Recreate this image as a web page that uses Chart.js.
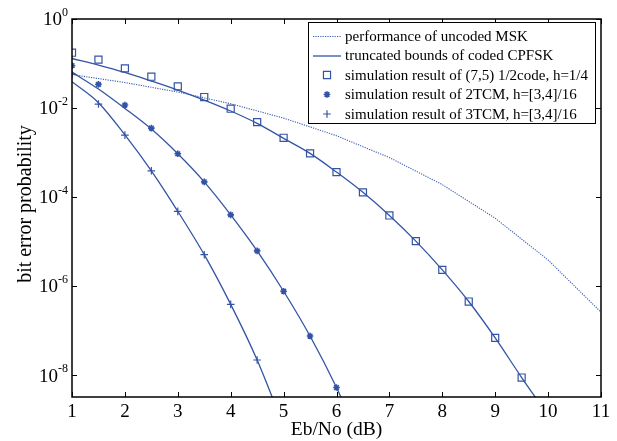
<!DOCTYPE html>
<html><head><meta charset="utf-8">
<script src="https://cdn.jsdelivr.net/npm/chart.js@4.4.0/dist/chart.umd.min.js"></script>
<style>html,body{margin:0;padding:0;background:#fff;overflow:hidden}</style>
</head><body>
<canvas id="c" width="617" height="441"></canvas>
<script>
// ---- data ----
const xTicks = [1, 2, 3, 4, 5, 6, 7, 8, 9, 10, 11];
const yTickExponents = [0, -2, -4, -6, -8];
const xTitle = 'Eb/No (dB)';
const yTitle = 'bit error probability';

const mskEbNo = [1, 2, 3, 4, 5, 6, 7, 8, 9, 10, 11];
const mskBer  = [5.63e-2, 3.75e-2, 2.29e-2, 1.25e-2, 5.95e-3, 2.39e-3, 7.73e-4, 1.91e-4, 3.36e-5, 3.87e-6, 2.61e-7];

const boundAEbNo = [1, 1.5, 2, 2.5, 3, 3.5, 4, 4.5, 5, 5.5, 6, 6.5, 7, 7.5, 8, 8.5, 9, 9.5, 10];
const boundABer  = [0.13, 0.0925, 0.063, 0.0405, 0.0254, 0.0151, 0.0086, 0.00453, 0.00209, 9.6e-4, 3.65e-4, 1.28e-4, 3.88e-5, 1.03e-5, 2.33e-6, 4.53e-7, 6.9e-8, 8.9e-9, 1.26e-9];
const simAEbNo = [1, 1.5, 2, 2.5, 3, 3.5, 4, 4.5, 5, 5.5, 6, 6.5, 7, 7.5, 8, 8.5, 9, 9.5];
const simABer  = [0.175, 0.122, 0.078, 0.0506, 0.0307, 0.0177, 0.00966, 0.00484, 0.00215, 9.6e-4, 3.65e-4, 1.28e-4, 3.88e-5, 1.03e-5, 2.33e-6, 4.53e-7, 6.9e-8, 8.9e-9];

const boundBEbNo = [1, 1.5, 2, 2.5, 3, 3.5, 4, 4.5, 5, 5.5, 6, 6.5];
const boundBBer  = [0.064, 0.0267, 0.0098, 0.00337, 9.4e-4, 2.2e-4, 4.0e-5, 6.2e-6, 7.7e-7, 7.6e-8, 5.3e-9, 2.5e-10];
const simBEbNo = [1, 1.5, 2, 2.5, 3, 3.5, 4, 4.5, 5, 5.5, 6];
const simBBer  = [0.0893, 0.034, 0.0117, 0.00355, 9.4e-4, 2.2e-4, 4.0e-5, 6.2e-6, 7.7e-7, 7.6e-8, 5.3e-9];

const boundCEbNo = [1, 1.5, 2, 2.5, 3, 3.5, 4, 4.5, 5];
const boundCBer  = [0.039, 0.0132, 0.0025, 3.9e-4, 4.8e-5, 5.1e-6, 3.9e-7, 2.2e-8, 7.2e-10];
const simCEbNo = [1, 1.5, 2, 2.5, 3, 3.5, 4, 4.5];
const simCBer  = [0.0572, 0.0123, 0.00247, 3.9e-4, 4.8e-5, 5.1e-6, 3.9e-7, 2.2e-8];

const legendLabels = [
  'performance of uncoded MSK',
  'truncated bounds of coded CPFSK',
  'simulation result of (7,5) 1/2code, h=1/4',
  'simulation result of 2TCM, h=[3,4]/16',
  'simulation result of 3TCM, h=[3,4]/16'
];

// ---- styling ----
const BLUE = '#3354a6';
const DOT_BLUE = '#3a5bb0';
const FONT = '"Liberation Serif", "Times New Roman", serif';

const pts = (xs, ys) => xs.map((x, i) => ({x: x, y: ys[i]}));

const lineDs = (label, xs, ys) => ({
  label, data: pts(xs, ys), borderColor: BLUE, borderWidth: 1.3,
  pointRadius: 0, fill: false, cubicInterpolationMode: 'monotone'
});
const markDs = (label, xs, ys, style, r, bw) => ({
  label, data: pts(xs, ys), showLine: false, borderColor: BLUE,
  backgroundColor: 'rgba(0,0,0,0)', pointStyle: style, pointRadius: r, pointBorderWidth: bw
});

const datasets = [
  {label: legendLabels[0], data: pts(mskEbNo, mskBer), borderColor: DOT_BLUE, borderWidth: 1.1,
   borderDash: [1.2, 1.2], pointRadius: 0, fill: false, tension: 0},
  lineDs(legendLabels[1], boundAEbNo, boundABer),
  lineDs('bound 2TCM', boundBEbNo, boundBBer),
  lineDs('bound 3TCM', boundCEbNo, boundCBer),
  markDs(legendLabels[2], simAEbNo, simABer, 'rect', 5, 1.2),
  markDs(legendLabels[3], simBEbNo, simBBer, 'star', 3.3, 1.6),
  markDs(legendLabels[4], simCEbNo, simCBer, 'cross', 3.8, 1.2)
];

const decorPlugin = {
  id: 'decor',
  afterDatasetsDraw(chart) {
    const ctx = chart.ctx, a = chart.chartArea;
    const sx = chart.scales.x, sy = chart.scales.y;
    ctx.save();
    ctx.strokeStyle = '#000';
    ctx.lineWidth = 1;
    ctx.beginPath();
    xTicks.forEach(v => {
      const px = Math.round(sx.getPixelForValue(v)) + 0.5;
      ctx.moveTo(px, a.bottom); ctx.lineTo(px, a.bottom - 5);
      ctx.moveTo(px, a.top); ctx.lineTo(px, a.top + 5);
    });
    yTickExponents.forEach(e => {
      const py = Math.round(sy.getPixelForValue(Math.pow(10, e))) + 0.5;
      ctx.moveTo(a.left, py); ctx.lineTo(a.left + 5, py);
      ctx.moveTo(a.right, py); ctx.lineTo(a.right - 5, py);
    });
    ctx.stroke();
    ctx.lineWidth = 1.5;
    ctx.strokeRect(a.left, a.top, a.right - a.left, a.bottom - a.top);

    // x tick labels
    ctx.fillStyle = '#000';
    ctx.font = '19px ' + FONT;
    ctx.textAlign = 'center';
    ctx.textBaseline = 'alphabetic';
    xTicks.forEach(v => ctx.fillText(String(v), sx.getPixelForValue(v), 416.5));

    // y tick labels (10 with superscript exponent)
    yTickExponents.forEach(e => {
      const py = sy.getPixelForValue(Math.pow(10, e));
      const base = '10', ex = String(e);
      ctx.font = '19px ' + FONT;
      const w1 = ctx.measureText(base).width;
      ctx.font = '12px ' + FONT;
      const w2 = ctx.measureText(ex).width;
      const x0 = a.left - 4 - w2 - w1;
      ctx.textAlign = 'left';
      ctx.font = '19px ' + FONT;
      ctx.fillText(base, x0, py + 6.3);
      ctx.font = '12px ' + FONT;
      ctx.fillText(ex, x0 + w1, py - 3);
    });

    // axis titles
    ctx.font = '19.5px ' + FONT;
    ctx.textAlign = 'center';
    ctx.fillText(xTitle, (a.left + a.right) / 2, 435);
    ctx.save();
    ctx.translate(31, 204);
    ctx.rotate(-Math.PI / 2);
    ctx.font = '20px ' + FONT;
    ctx.fillText(yTitle, 0, 0);
    ctx.restore();

    // legend
    const bx = 308.5, by = 22.5, bw = 287, bh = 101;
    ctx.fillStyle = '#fff';
    ctx.fillRect(bx, by, bw, bh);
    ctx.strokeStyle = '#000';
    ctx.lineWidth = 1;
    ctx.strokeRect(bx, by, bw, bh);
    const rows = [36, 55.5, 75, 94.5, 114];
    ctx.font = '15px ' + FONT;
    ctx.textAlign = 'left';
    ctx.textBaseline = 'middle';
    legendLabels.forEach((lab, i) => {
      const y = rows[i];
      ctx.save();
      if (i === 0) {
        ctx.strokeStyle = DOT_BLUE; ctx.lineWidth = 1.1; ctx.setLineDash([1.2, 1.2]);
        ctx.beginPath(); ctx.moveTo(313, y + 0.5); ctx.lineTo(341, y + 0.5); ctx.stroke();
      } else if (i === 1) {
        ctx.strokeStyle = BLUE; ctx.lineWidth = 1.3;
        ctx.beginPath(); ctx.moveTo(313, y + 0.5); ctx.lineTo(341, y + 0.5); ctx.stroke();
      } else {
        const ds = datasets[i + 2];
        ctx.strokeStyle = BLUE; ctx.fillStyle = 'rgba(0,0,0,0)';
        ctx.lineWidth = ds.pointBorderWidth;
        Chart.helpers.drawPoint(ctx, {pointStyle: ds.pointStyle, radius: ds.pointRadius, rotation: 0, borderWidth: ds.pointBorderWidth}, 327, y);
      }
      ctx.restore();
      ctx.fillStyle = '#000';
      ctx.fillText(lab, 345, y + 1);
    });
    ctx.restore();
  }
};

new Chart(document.getElementById('c'), {
  type: 'line',
  data: {datasets},
  options: {
    responsive: false,
    animation: false,
    events: [],
    layout: {padding: {left: 0, right: 16, top: 19, bottom: 0}},
    plugins: {legend: {display: false}, tooltip: {enabled: false}},
    scales: {
      x: {
        type: 'linear', min: 1, max: 11,
        grid: {display: false}, border: {display: false},
        ticks: {display: false},
        afterFit(s) { s.height = 44; }
      },
      y: {
        type: 'logarithmic', min: 3.25e-9, max: 1,
        grid: {display: false}, border: {display: false},
        ticks: {display: false},
        afterFit(s) { s.width = 72; }
      }
    }
  },
  plugins: [decorPlugin]
});
</script>
</body></html>
